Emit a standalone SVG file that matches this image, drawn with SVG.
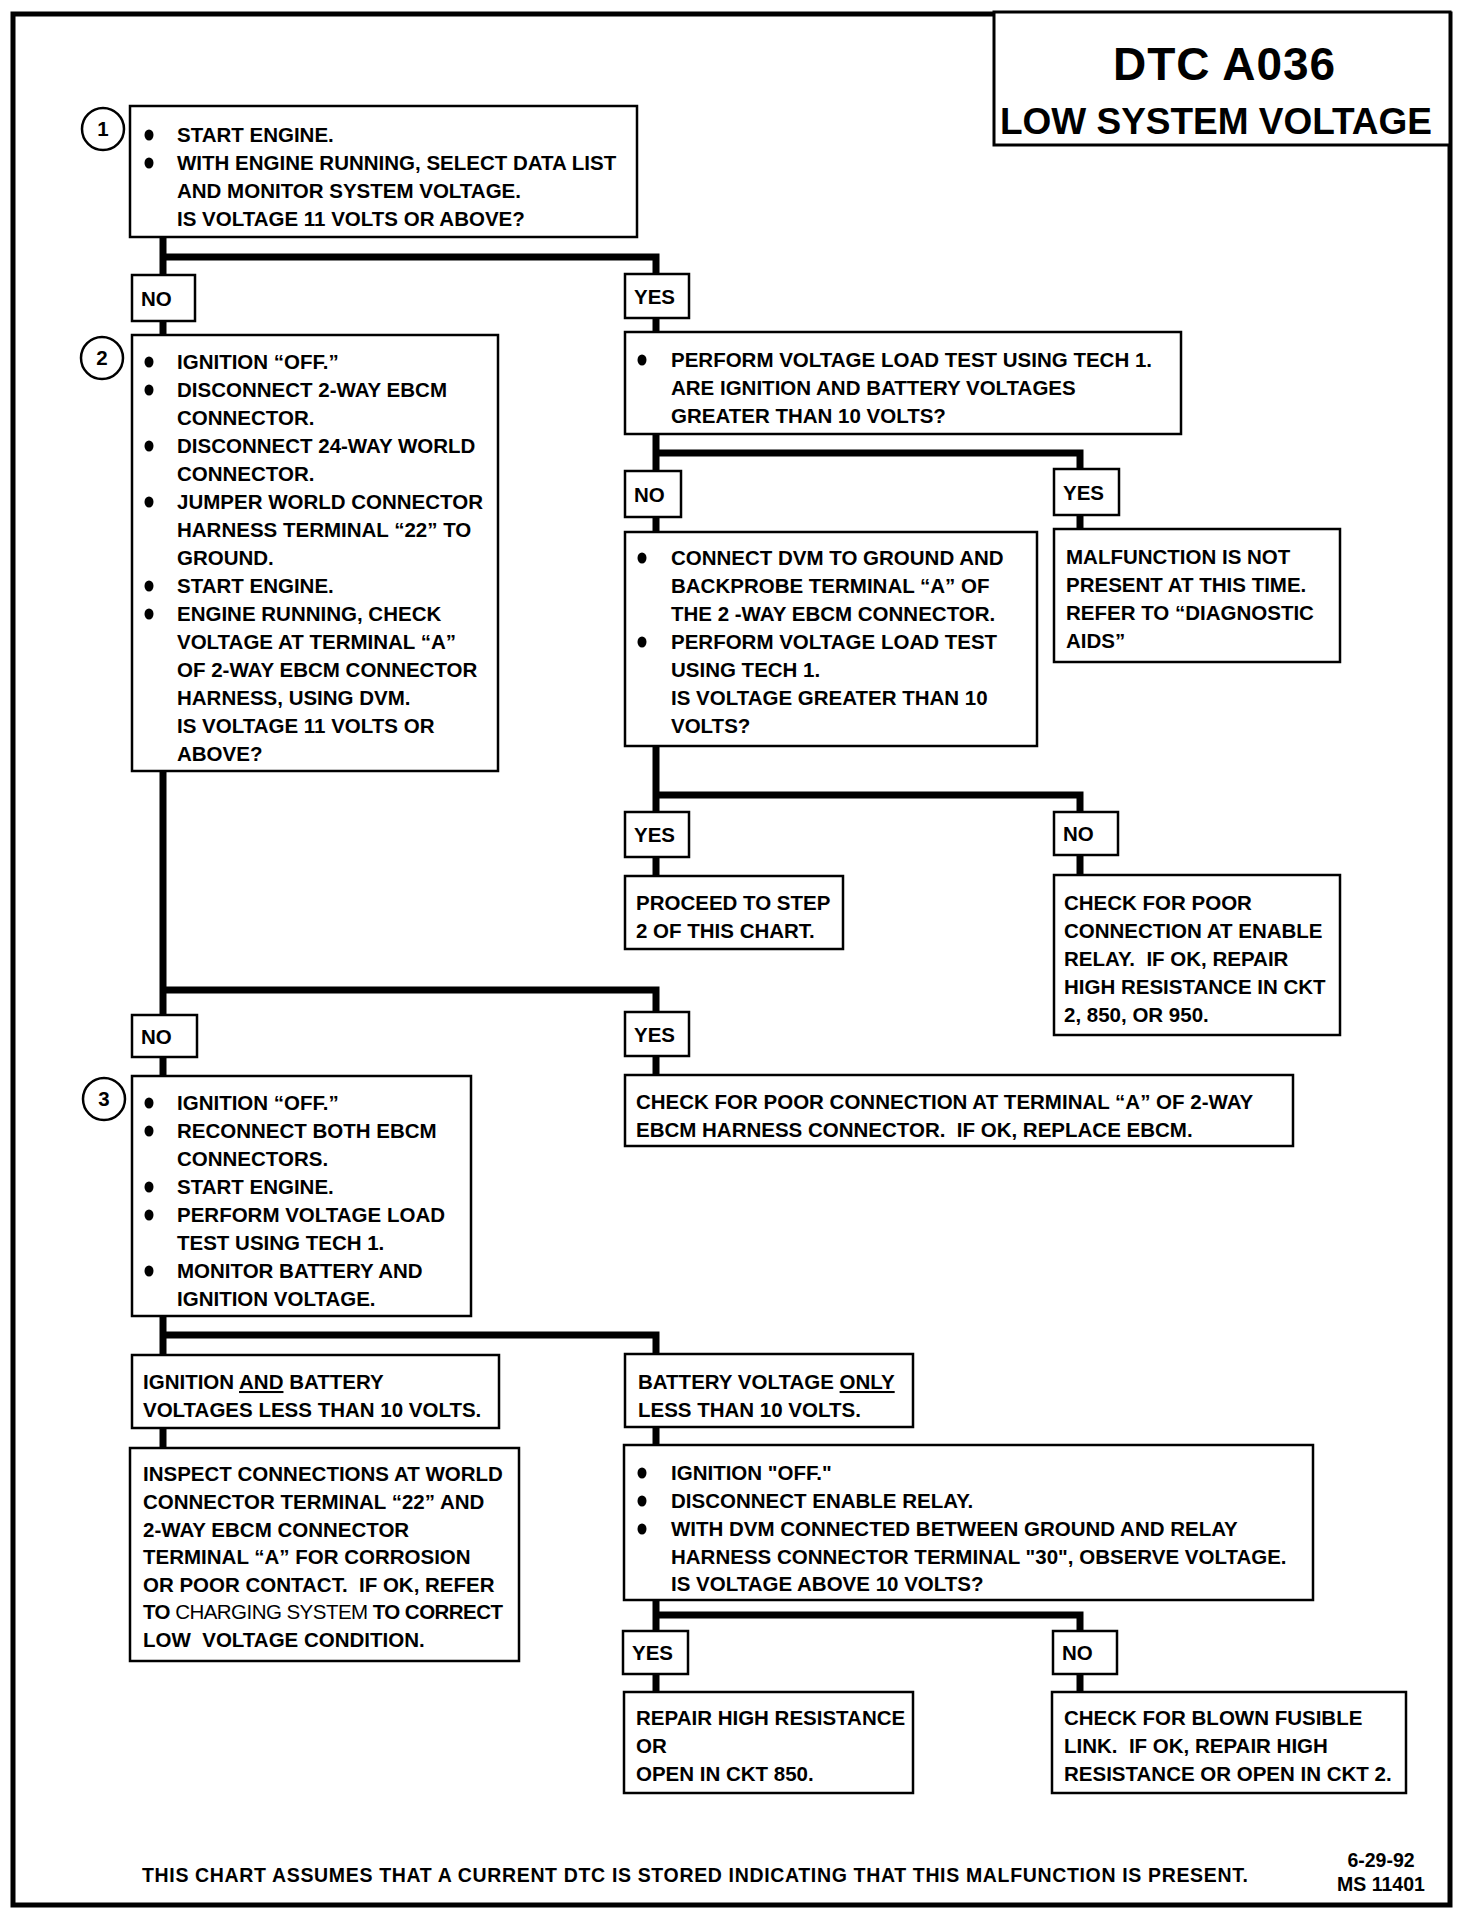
<svg xmlns="http://www.w3.org/2000/svg" width="1472" height="1916" viewBox="0 0 1472 1916" xml:space="preserve">
<style>
.bx{fill:#fff;stroke:#000;stroke-width:2.5}
.lb{fill:#fff;stroke:#000;stroke-width:2.5}
.t{font-family:"Liberation Sans",Arial,sans-serif;font-weight:bold;font-size:20.5px;fill:#000;white-space:pre}
.n{font-weight:normal}
.h1{font-size:46px}
.h2{font-size:37px}
.ft{font-size:19.5px}
.dt{font-size:19.5px}
.c{fill:none;stroke:#000;stroke-width:7;stroke-linejoin:miter;stroke-linecap:butt}
.cir{fill:#fff;stroke:#000;stroke-width:2.5}
.b{fill:#000}
</style>
<rect x="0" y="0" width="1472" height="1916" fill="#fff"/>
<rect x="13" y="14" width="1437" height="1891" fill="none" stroke="#000" stroke-width="5"/>
<g id="title">
<rect x="994" y="12" width="456" height="133" fill="#fff" stroke="#000" stroke-width="3"/>
<text class="t h1" x="1224" y="80" text-anchor="middle" textLength="222">DTC A036</text>
<text class="t h2" x="1216" y="134" text-anchor="middle" textLength="432">LOW SYSTEM VOLTAGE</text>
</g>
<g id="connectors">
<path class="c" d="M163,237 V275 M163,257 H656 V274"/>
<path class="c" d="M163,321 V335"/>
<path class="c" d="M656,318 V332"/>
<path class="c" d="M656,434 V471 M656,453 H1080 V469"/>
<path class="c" d="M656,517 V532"/>
<path class="c" d="M1080,515 V529"/>
<path class="c" d="M656,746 V812 M656,795 H1080 V812"/>
<path class="c" d="M656,857 V876"/>
<path class="c" d="M1080,855 V875"/>
<path class="c" d="M163,771 V1015 M163,990 H656 V1012"/>
<path class="c" d="M163,1057 V1076"/>
<path class="c" d="M656,1056 V1075"/>
<path class="c" d="M163,1316 V1355 M163,1335 H656 V1354"/>
<path class="c" d="M163,1428 V1448"/>
<path class="c" d="M656,1427 V1445"/>
<path class="c" d="M656,1600 V1631 M656,1615 H1080 V1631"/>
<path class="c" d="M656,1674 V1692"/>
<path class="c" d="M1080,1674 V1692"/>
</g>
<g id="step1">
<circle class="cir" cx="103" cy="129" r="21"/>
<text class="t" x="103" y="136" text-anchor="middle">1</text>
<rect class="bx" x="130" y="106" width="507" height="131"/>
<ellipse class="b" cx="149" cy="135" rx="4.5" ry="5.5"/>
<ellipse class="b" cx="149" cy="163" rx="4.5" ry="5.5"/>
<text class="t" x="177" y="142">START ENGINE.</text>
<text class="t" x="177" y="170">WITH ENGINE RUNNING, SELECT DATA LIST</text>
<text class="t" x="177" y="198">AND MONITOR SYSTEM VOLTAGE.</text>
<text class="t" x="177" y="226">IS VOLTAGE 11 VOLTS OR ABOVE?</text>
</g>
<g id="no1"><rect class="lb" x="132" y="275" width="63" height="46"/><text class="t" x="141" y="306">NO</text></g>
<g id="yes1"><rect class="lb" x="625" y="274" width="64" height="44"/><text class="t" x="634" y="304">YES</text></g>
<g id="step2">
<circle class="cir" cx="102" cy="358" r="21"/>
<text class="t" x="102" y="365" text-anchor="middle">2</text>
<rect class="bx" x="132" y="335" width="366" height="436"/>
<ellipse class="b" cx="149" cy="362" rx="4.5" ry="5.5"/>
<ellipse class="b" cx="149" cy="390" rx="4.5" ry="5.5"/>
<ellipse class="b" cx="149" cy="446" rx="4.5" ry="5.5"/>
<ellipse class="b" cx="149" cy="502" rx="4.5" ry="5.5"/>
<ellipse class="b" cx="149" cy="586" rx="4.5" ry="5.5"/>
<ellipse class="b" cx="149" cy="614" rx="4.5" ry="5.5"/>
<text class="t" x="177" y="369">IGNITION “OFF.”</text>
<text class="t" x="177" y="397">DISCONNECT 2-WAY EBCM</text>
<text class="t" x="177" y="425">CONNECTOR.</text>
<text class="t" x="177" y="453">DISCONNECT 24-WAY WORLD</text>
<text class="t" x="177" y="481">CONNECTOR.</text>
<text class="t" x="177" y="509">JUMPER WORLD CONNECTOR</text>
<text class="t" x="177" y="537">HARNESS TERMINAL “22” TO</text>
<text class="t" x="177" y="565">GROUND.</text>
<text class="t" x="177" y="593">START ENGINE.</text>
<text class="t" x="177" y="621">ENGINE RUNNING, CHECK</text>
<text class="t" x="177" y="649">VOLTAGE AT TERMINAL “A”</text>
<text class="t" x="177" y="677">OF 2-WAY EBCM CONNECTOR</text>
<text class="t" x="177" y="705">HARNESS, USING DVM.</text>
<text class="t" x="177" y="733">IS VOLTAGE 11 VOLTS OR</text>
<text class="t" x="177" y="761">ABOVE?</text>
</g>
<g id="loadtest1">
<rect class="bx" x="625" y="332" width="556" height="102"/>
<ellipse class="b" cx="642" cy="360" rx="4.5" ry="5.5"/>
<text class="t" x="671" y="367">PERFORM VOLTAGE LOAD TEST USING TECH 1.</text>
<text class="t" x="671" y="395">ARE IGNITION AND BATTERY VOLTAGES</text>
<text class="t" x="671" y="423">GREATER THAN 10 VOLTS?</text>
</g>
<g id="no2"><rect class="lb" x="625" y="471" width="56" height="46"/><text class="t" x="634" y="502">NO</text></g>
<g id="yes2"><rect class="lb" x="1054" y="469" width="65" height="46"/><text class="t" x="1063" y="500">YES</text></g>
<g id="dvmtest">
<rect class="bx" x="625" y="532" width="412" height="214"/>
<ellipse class="b" cx="642" cy="558" rx="4.5" ry="5.5"/>
<ellipse class="b" cx="642" cy="642" rx="4.5" ry="5.5"/>
<text class="t" x="671" y="565">CONNECT DVM TO GROUND AND</text>
<text class="t" x="671" y="593">BACKPROBE TERMINAL “A” OF</text>
<text class="t" x="671" y="621">THE 2 -WAY EBCM CONNECTOR.</text>
<text class="t" x="671" y="649">PERFORM VOLTAGE LOAD TEST</text>
<text class="t" x="671" y="677">USING TECH 1.</text>
<text class="t" x="671" y="705">IS VOLTAGE GREATER THAN 10</text>
<text class="t" x="671" y="733">VOLTS?</text>
</g>
<g id="notpresent">
<rect class="bx" x="1054" y="529" width="286" height="133"/>
<text class="t" x="1066" y="564">MALFUNCTION IS NOT</text>
<text class="t" x="1066" y="592">PRESENT AT THIS TIME.</text>
<text class="t" x="1066" y="620">REFER TO “DIAGNOSTIC</text>
<text class="t" x="1066" y="648">AIDS”</text>
</g>
<g id="yes3"><rect class="lb" x="625" y="812" width="64" height="45"/><text class="t" x="634" y="842">YES</text></g>
<g id="no3"><rect class="lb" x="1054" y="812" width="64" height="43"/><text class="t" x="1063" y="841">NO</text></g>
<g id="proceed">
<rect class="bx" x="625" y="876" width="218" height="73"/>
<text class="t" x="636" y="910">PROCEED TO STEP</text>
<text class="t" x="636" y="938">2 OF THIS CHART.</text>
</g>
<g id="enablerelay">
<rect class="bx" x="1054" y="875" width="286" height="160"/>
<text class="t" x="1064" y="910">CHECK FOR POOR</text>
<text class="t" x="1064" y="938">CONNECTION AT ENABLE</text>
<text class="t" x="1064" y="966">RELAY.  IF OK, REPAIR</text>
<text class="t" x="1064" y="994">HIGH RESISTANCE IN CKT</text>
<text class="t" x="1064" y="1022">2, 850, OR 950.</text>
</g>
<g id="no4"><rect class="lb" x="132" y="1015" width="65" height="42"/><text class="t" x="141" y="1044">NO</text></g>
<g id="yes4"><rect class="lb" x="625" y="1012" width="64" height="44"/><text class="t" x="634" y="1042">YES</text></g>
<g id="step3">
<circle class="cir" cx="104" cy="1099" r="21"/>
<text class="t" x="104" y="1106" text-anchor="middle">3</text>
<rect class="bx" x="132" y="1076" width="339" height="240"/>
<ellipse class="b" cx="149" cy="1103" rx="4.5" ry="5.5"/>
<ellipse class="b" cx="149" cy="1131" rx="4.5" ry="5.5"/>
<ellipse class="b" cx="149" cy="1187" rx="4.5" ry="5.5"/>
<ellipse class="b" cx="149" cy="1215" rx="4.5" ry="5.5"/>
<ellipse class="b" cx="149" cy="1271" rx="4.5" ry="5.5"/>
<text class="t" x="177" y="1110">IGNITION “OFF.”</text>
<text class="t" x="177" y="1138">RECONNECT BOTH EBCM</text>
<text class="t" x="177" y="1166">CONNECTORS.</text>
<text class="t" x="177" y="1194">START ENGINE.</text>
<text class="t" x="177" y="1222">PERFORM VOLTAGE LOAD</text>
<text class="t" x="177" y="1250">TEST USING TECH 1.</text>
<text class="t" x="177" y="1278">MONITOR BATTERY AND</text>
<text class="t" x="177" y="1306">IGNITION VOLTAGE.</text>
</g>
<g id="replaceebcm">
<rect class="bx" x="625" y="1075" width="668" height="71"/>
<text class="t" x="636" y="1109">CHECK FOR POOR CONNECTION AT TERMINAL “A” OF 2-WAY</text>
<text class="t" x="636" y="1137">EBCM HARNESS CONNECTOR.  IF OK, REPLACE EBCM.</text>
</g>
<g id="bothlow">
<rect class="bx" x="132" y="1355" width="367" height="73"/>
<text class="t" x="143" y="1389">IGNITION <tspan text-decoration="underline">AND</tspan> BATTERY</text>
<text class="t" x="143" y="1417">VOLTAGES LESS THAN 10 VOLTS.</text>
</g>
<g id="batterylow">
<rect class="bx" x="625" y="1354" width="288" height="73"/>
<text class="t" x="638" y="1389">BATTERY VOLTAGE <tspan text-decoration="underline">ONLY</tspan></text>
<text class="t" x="638" y="1417">LESS THAN 10 VOLTS.</text>
</g>
<g id="inspect">
<rect class="bx" x="130" y="1448" width="389" height="213"/>
<text class="t" x="143" y="1481">INSPECT CONNECTIONS AT WORLD</text>
<text class="t" x="143" y="1509">CONNECTOR TERMINAL “22” AND</text>
<text class="t" x="143" y="1537">2-WAY EBCM CONNECTOR</text>
<text class="t" x="143" y="1564">TERMINAL “A” FOR CORROSION</text>
<text class="t" x="143" y="1592">OR POOR CONTACT.  IF OK, REFER</text>
<text class="t" x="143" y="1619" textLength="360">TO <tspan class="n">CHARGING SYSTEM</tspan> TO CORRECT</text>
<text class="t" x="143" y="1647">LOW  VOLTAGE CONDITION.</text>
</g>
<g id="relaytest">
<rect class="bx" x="624" y="1445" width="689" height="155"/>
<ellipse class="b" cx="642" cy="1473" rx="4.5" ry="5.5"/>
<ellipse class="b" cx="642" cy="1501" rx="4.5" ry="5.5"/>
<ellipse class="b" cx="642" cy="1529" rx="4.5" ry="5.5"/>
<text class="t" x="671" y="1480">IGNITION "OFF."</text>
<text class="t" x="671" y="1508">DISCONNECT ENABLE RELAY.</text>
<text class="t" x="671" y="1536">WITH DVM CONNECTED BETWEEN GROUND AND RELAY</text>
<text class="t" x="671" y="1564">HARNESS CONNECTOR TERMINAL "30", OBSERVE VOLTAGE.</text>
<text class="t" x="671" y="1591">IS VOLTAGE ABOVE 10 VOLTS?</text>
</g>
<g id="yes5"><rect class="lb" x="623" y="1631" width="65" height="43"/><text class="t" x="632" y="1660">YES</text></g>
<g id="no5"><rect class="lb" x="1053" y="1631" width="64" height="43"/><text class="t" x="1062" y="1660">NO</text></g>
<g id="repair850">
<rect class="bx" x="624" y="1692" width="289" height="101"/>
<text class="t" x="636" y="1725">REPAIR HIGH RESISTANCE</text>
<text class="t" x="636" y="1753">OR</text>
<text class="t" x="636" y="1781">OPEN IN CKT 850.</text>
</g>
<g id="fusible">
<rect class="bx" x="1052" y="1692" width="354" height="101"/>
<text class="t" x="1064" y="1725">CHECK FOR BLOWN FUSIBLE</text>
<text class="t" x="1064" y="1753">LINK.  IF OK, REPAIR HIGH</text>
<text class="t" x="1064" y="1781">RESISTANCE OR OPEN IN CKT 2.</text>
</g>
<g id="footer">
<text class="t ft" x="142" y="1882" textLength="1106">THIS CHART ASSUMES THAT A CURRENT DTC IS STORED INDICATING THAT THIS MALFUNCTION IS PRESENT.</text>
<text class="t dt" x="1381" y="1867" text-anchor="middle">6-29-92</text>
<text class="t dt" x="1381" y="1891" text-anchor="middle">MS 11401</text>
</g>
</svg>
